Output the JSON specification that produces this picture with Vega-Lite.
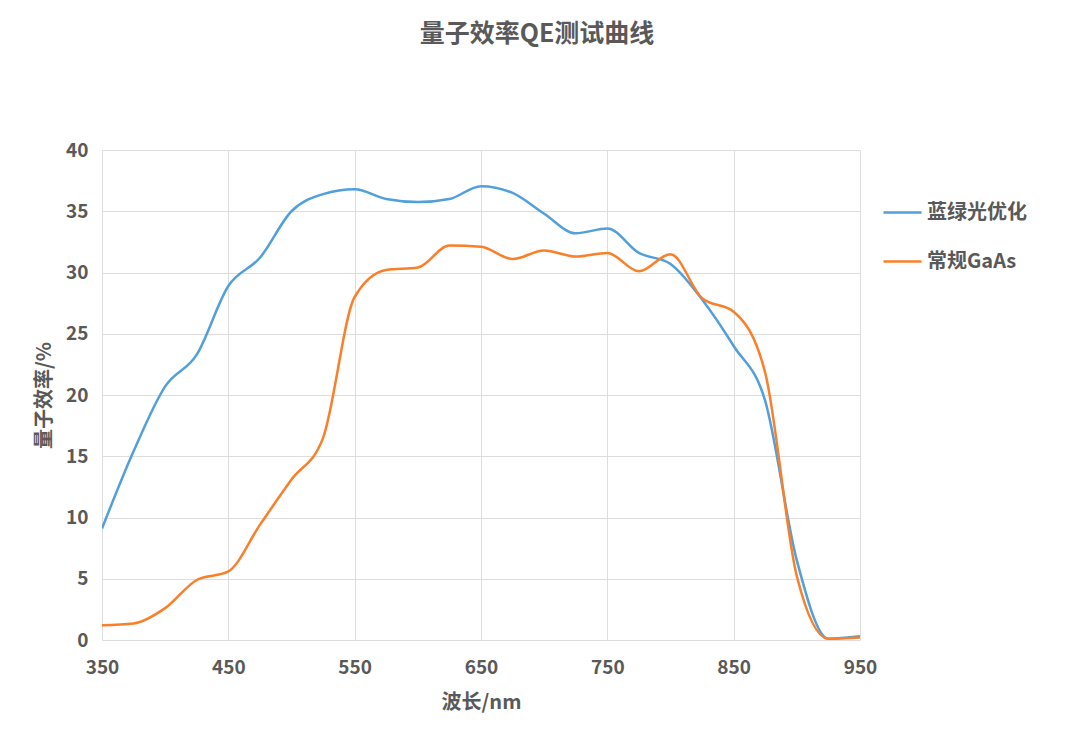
{
  "$schema": "https://vega.github.io/schema/vega-lite/v6.json",
  "width": 758,
  "height": 490,
  "autosize": "none",
  "padding": {"left": 102, "top": 150, "right": 220, "bottom": 110},
  "background": "white",
  "title": {
    "text": "量子效率QE测试曲线",
    "anchor": "middle",
    "dx": 56,
    "offset": 94,
    "fontSize": 25,
    "font": "Noto Sans CJK SC",
    "fontWeight": "bold",
    "color": "#595959"
  },
  "data": {
    "values": [
      {"nm": 350, "qe": 9.1, "series": "蓝绿光优化"},
      {"nm": 375, "qe": 15.4, "series": "蓝绿光优化"},
      {"nm": 400, "qe": 20.7, "series": "蓝绿光优化"},
      {"nm": 425, "qe": 23.3, "series": "蓝绿光优化"},
      {"nm": 450, "qe": 28.9, "series": "蓝绿光优化"},
      {"nm": 475, "qe": 31.2, "series": "蓝绿光优化"},
      {"nm": 500, "qe": 35.0, "series": "蓝绿光优化"},
      {"nm": 525, "qe": 36.4, "series": "蓝绿光优化"},
      {"nm": 550, "qe": 36.8, "series": "蓝绿光优化"},
      {"nm": 575, "qe": 36.0, "series": "蓝绿光优化"},
      {"nm": 600, "qe": 35.75, "series": "蓝绿光优化"},
      {"nm": 625, "qe": 36.0, "series": "蓝绿光优化"},
      {"nm": 650, "qe": 37.05, "series": "蓝绿光优化"},
      {"nm": 675, "qe": 36.5, "series": "蓝绿光优化"},
      {"nm": 700, "qe": 34.8, "series": "蓝绿光优化"},
      {"nm": 725, "qe": 33.2, "series": "蓝绿光优化"},
      {"nm": 750, "qe": 33.6, "series": "蓝绿光优化"},
      {"nm": 775, "qe": 31.6, "series": "蓝绿光优化"},
      {"nm": 800, "qe": 30.7, "series": "蓝绿光优化"},
      {"nm": 825, "qe": 27.8, "series": "蓝绿光优化"},
      {"nm": 850, "qe": 24.0, "series": "蓝绿光优化"},
      {"nm": 875, "qe": 19.5, "series": "蓝绿光优化"},
      {"nm": 900, "qe": 6.5, "series": "蓝绿光优化"},
      {"nm": 925, "qe": 0.1, "series": "蓝绿光优化"},
      {"nm": 950, "qe": 0.3, "series": "蓝绿光优化"},
      {"nm": 350, "qe": 1.2, "series": "常规GaAs"},
      {"nm": 375, "qe": 1.35, "series": "常规GaAs"},
      {"nm": 400, "qe": 2.6, "series": "常规GaAs"},
      {"nm": 425, "qe": 4.9, "series": "常规GaAs"},
      {"nm": 450, "qe": 5.6, "series": "常规GaAs"},
      {"nm": 475, "qe": 9.4, "series": "常规GaAs"},
      {"nm": 500, "qe": 13.1, "series": "常规GaAs"},
      {"nm": 525, "qe": 16.5, "series": "常规GaAs"},
      {"nm": 550, "qe": 28.0, "series": "常规GaAs"},
      {"nm": 575, "qe": 30.2, "series": "常规GaAs"},
      {"nm": 600, "qe": 30.4, "series": "常规GaAs"},
      {"nm": 625, "qe": 32.2, "series": "常规GaAs"},
      {"nm": 650, "qe": 32.1, "series": "常规GaAs"},
      {"nm": 675, "qe": 31.1, "series": "常规GaAs"},
      {"nm": 700, "qe": 31.8, "series": "常规GaAs"},
      {"nm": 725, "qe": 31.3, "series": "常规GaAs"},
      {"nm": 750, "qe": 31.6, "series": "常规GaAs"},
      {"nm": 775, "qe": 30.1, "series": "常规GaAs"},
      {"nm": 800, "qe": 31.5, "series": "常规GaAs"},
      {"nm": 825, "qe": 27.9, "series": "常规GaAs"},
      {"nm": 850, "qe": 26.8, "series": "常规GaAs"},
      {"nm": 875, "qe": 21.8, "series": "常规GaAs"},
      {"nm": 900, "qe": 5.2, "series": "常规GaAs"},
      {"nm": 925, "qe": 0.1, "series": "常规GaAs"},
      {"nm": 950, "qe": 0.2, "series": "常规GaAs"}
    ]
  },
  "mark": {"type": "line", "interpolate": "monotone", "strokeWidth": 2.5, "clip": true},
  "encoding": {
    "x": {
      "field": "nm",
      "type": "quantitative",
      "scale": {"domain": [350, 950], "nice": false, "zero": false},
      "axis": {
        "title": "波长/nm",
        "values": [350, 450, 550, 650, 750, 850, 950],
        "labelFlush": false,
        "labelPadding": 18,
        "titlePadding": 15
      }
    },
    "y": {
      "field": "qe",
      "type": "quantitative",
      "scale": {"domain": [0, 40], "nice": false},
      "axis": {
        "title": "量子效率/%",
        "values": [0, 5, 10, 15, 20, 25, 30, 35, 40],
        "labelPadding": 14,
        "titlePadding": 11
      }
    },
    "color": {
      "field": "series",
      "type": "nominal",
      "scale": {"domain": ["蓝绿光优化", "常规GaAs"], "range": ["#519FDB", "#FA7F2A"]},
      "legend": {
        "title": null,
        "orient": "none",
        "legendX": 780,
        "legendY": 42,
        "symbolType": "stroke",
        "symbolSize": 1444,
        "symbolStrokeWidth": 2.5,
        "labelOffset": 4,
        "rowPadding": 18
      }
    }
  },
  "config": {
    "view": {"stroke": null},
    "font": "Noto Sans CJK SC",
    "axis": {
      "grid": true,
      "gridColor": "#dddddd",
      "gridWidth": 1,
      "domain": false,
      "ticks": false,
      "labelFont": "Noto Sans CJK SC",
      "labelFontSize": 19,
      "labelFontWeight": "bold",
      "labelColor": "#595959",
      "titleFont": "Noto Sans CJK SC",
      "titleFontSize": 20,
      "titleFontWeight": "bold",
      "titleColor": "#595959"
    },
    "legend": {
      "labelFont": "Noto Sans CJK SC",
      "labelFontSize": 20,
      "labelFontWeight": "bold",
      "labelColor": "#595959"
    }
  }
}
